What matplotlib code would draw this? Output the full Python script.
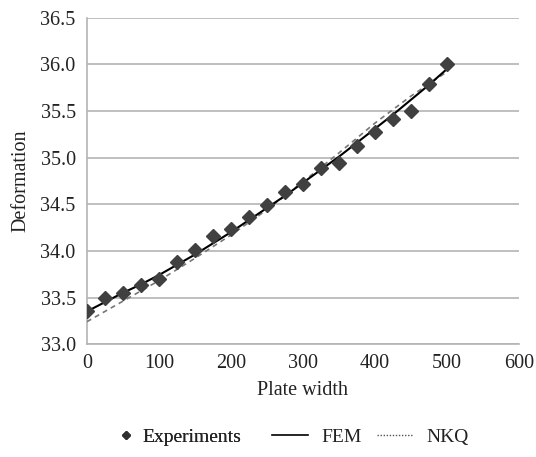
import numpy as np
import matplotlib.pyplot as plt
from matplotlib.lines import Line2D

plt.rcParams['font.family'] = ['Liberation Serif', 'DejaVu Serif']

# plate width positions
width = [0, 25, 50, 75, 100, 125, 150, 175, 200, 225, 250,
         275, 300, 325, 350, 375, 400, 425, 450, 475, 500]

# measured deformation
experiments = [33.35, 33.49, 33.55, 33.635, 33.70, 33.88, 34.01, 34.165, 34.24, 34.36, 34.49,
               34.63, 34.72, 34.89, 34.94, 35.125, 35.27, 35.415, 35.50, 35.79, 36.00]

# FEM curve
fem = [33.35, 33.45, 33.55, 33.64, 33.74, 33.85, 33.96, 34.08, 34.20, 34.33, 34.46,
       34.59, 34.73, 34.87, 35.01, 35.16, 35.31, 35.46, 35.62, 35.78, 35.95]

# NKQ curve
nkq_x = [0, 50, 100, 150, 200, 250, 300, 350, 400, 450, 500]
nkq = [33.24, 33.46, 33.68, 33.92, 34.17, 34.44, 34.74, 35.05, 35.37, 35.66, 35.92]

yticks = [33.0, 33.5, 34.0, 34.5, 35.0, 35.5, 36.0, 36.5]
xticks = [0, 100, 200, 300, 400, 500, 600]

fig = plt.figure(figsize=(5.36, 4.57), dpi=100)
ax = fig.add_axes([0.162, 0.247, 0.806, 0.714])

ax.plot(nkq_x, nkq, color='#777777', linestyle=(0, (3, 2.5)), linewidth=1.2, zorder=3)
ax.plot(width, fem, color='black', linewidth=1.5, zorder=4)
ax.plot(width, experiments, linestyle='none', marker='D', markersize=7,
        color='#404040', zorder=5)

ax.set_xlim(0, 600)
ax.set_ylim(33.0, 36.5)
ax.set_xticks(xticks)
ax.set_yticks(yticks)
ax.set_yticklabels(['%.1f' % v for v in yticks])
ax.grid(axis='y', color='#b4b4b4', linewidth=1.2)
ax.set_axisbelow(True)
for s in ['top', 'right']:
    ax.spines[s].set_visible(False)
for s in ['left', 'bottom']:
    ax.spines[s].set_color('#b4b4b4')
    ax.spines[s].set_linewidth(1.2)
ax.tick_params(axis='y', length=0, labelsize=14.5, colors='#222222', pad=8)
ax.tick_params(axis='x', length=0, labelsize=14.5, colors='#222222', pad=7)

ax.set_xlabel('Plate width', fontsize=14.5, color='#222222', labelpad=6)
ax.set_ylabel('Deformation', fontsize=14.5, color='#222222', labelpad=7)

# legend split in two so the diamond gets a short handle
leg1 = fig.legend([Line2D([], [], linestyle='none', marker='D', markersize=4.5, color='#303030')],
                  ['Experiments'], loc='center left', bbox_to_anchor=(0.226, 0.044),
                  frameon=False, fontsize=14, borderpad=0, borderaxespad=0,
                  handlelength=0.5, handletextpad=0.6, labelcolor='#222222')
fig.add_artist(leg1)
fig.legend([Line2D([], [], color='black', linewidth=1.2),
            Line2D([], [], color='#555555', linestyle=(0, (1, 1.2)), linewidth=1.0)],
           ['FEM', 'NKQ'], loc='center left', bbox_to_anchor=(0.507, 0.044), ncol=2,
           frameon=False, fontsize=14, borderpad=0, borderaxespad=0, handlelength=1.85,
           handletextpad=0.7, columnspacing=0.8, labelcolor='#222222')

fig.savefig('out.png', dpi=100)
